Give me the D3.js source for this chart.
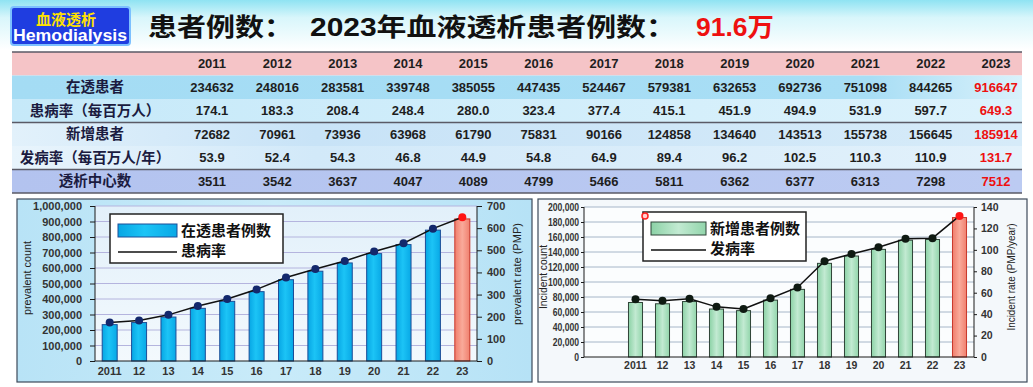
<!DOCTYPE html>
<html>
<head>
<meta charset="utf-8">
<title>血液透析患者例数</title>
<script src="https://cdn.jsdelivr.net/npm/d3@7"></script>
<style>
  html, body { margin: 0; padding: 0; background: #fff; }
  svg { display: block; font-family: "Liberation Sans", Arial, "Noto Sans CJK SC", sans-serif; }
  .cell { font-size: 13px; font-weight: bold; fill: #1e1e1e; text-anchor: middle; }
  .cell.last { fill: #ee1010; }
  .rowlabel { font-size: 14.5px; font-weight: bold; fill: #1b1b40; text-anchor: middle;
              font-family: "Noto Sans CJK SC", sans-serif; }
  .tick text { font-size: 11px; font-weight: bold; fill: #333; }
  .small .tick text { font-size: 10.5px; }
  .axis path, .axis line { stroke: #1a1a1a; }
  .grid-l { stroke: #b4b4de; stroke-width: 1; }
  .grid-r { stroke: #a6b6c8; stroke-width: 1; }
  .ytitle { font-size: 11.5px; fill: #222; text-anchor: middle; }
  .legend text { font-size: 15px; font-weight: bold; fill: #111;
                 font-family: "Noto Sans CJK SC", sans-serif; }
  .rate { fill: none; stroke: #111; stroke-width: 1.5px; }
</style>
</head>
<body>
<div id="chart"></div>
<script>
var width = 1033,
    height = 387;

// ---- data ----
var years = ["2011", "2012", "2013", "2014", "2015", "2016", "2017",
             "2018", "2019", "2020", "2021", "2022", "2023"];
var yearTicks = ["2011", "12", "13", "14", "15", "16", "17",
                 "18", "19", "20", "21", "22", "23"];
var prevalentCount = [234632, 248016, 283581, 339748, 385055, 447435, 524467,
                      579381, 632653, 692736, 751098, 844265, 916647];
var prevalenceRate = [174.1, 183.3, 208.4, 248.4, 280.0, 323.4, 377.4,
                      415.1, 451.9, 494.9, 531.9, 597.7, 649.3];
var incidentCount = [72682, 70961, 73936, 63968, 61790, 75831, 90166,
                     124858, 134640, 143513, 155738, 156645, 185914];
var incidenceRate = [53.9, 52.4, 54.3, 46.8, 44.9, 54.8, 64.9,
                     89.4, 96.2, 102.5, 110.3, 110.9, 131.7];
var centerCount = [3511, 3542, 3637, 4047, 4089, 4799, 5466,
                   5811, 6362, 6377, 6313, 7298, 7512];
var rowLabels = ["在透患者", "患病率（每百万人）", "新增患者",
                 "发病率（每百万人/年）", "透析中心数"];

var svg = d3.select("#chart").append("svg")
            .attr("width", width)
            .attr("height", height);

var defs = svg.append("defs");

function vgrad(id, stops, horizontal) {
  var g = defs.append("linearGradient").attr("id", id)
              .attr("x1", 0).attr("y1", 0)
              .attr("x2", horizontal ? 1 : 0).attr("y2", horizontal ? 0 : 1);
  stops.forEach(function(s) {
    g.append("stop").attr("offset", s[0]).attr("stop-color", s[1]);
  });
}
vgrad("topband", [[0, "#8fe3f2"], [0.35, "#d8f6fb"], [1, "#ffffff"]]);
vgrad("row1", [[0, "#a4dcf4"], [0.85, "#a8def5"], [1, "#d9f1fb"]], true);
vgrad("row2", [[0, "#c6e9f9"], [1, "#dcf2fc"]], true);
vgrad("row3", [[0, "#e2f1fb"], [0.3, "#c8e3f7"], [1, "#d6ebf9"]], true);
vgrad("row4", [[0, "#e8f4fc"], [0.3, "#d2e9f9"], [1, "#e2f1fb"]], true);
vgrad("row5", [[0, "#b3c3ef"], [1, "#bccbf2"]], true);
vgrad("plotL", [[0, "#e2f0fa"], [1, "#f3f9fd"]]);
vgrad("panelL", [[0, "#b8e3f6"], [0.5, "#c9ebf9"], [1, "#b6e2f6"]], true);
vgrad("barBlue", [[0, "#07a6e4"], [0.45, "#1cc4f6"], [1, "#08a8e6"]], true);
vgrad("barGreen", [[0, "#8cd2a6"], [0.5, "#c2ead2"], [1, "#92d5ab"]], true);
vgrad("barRed", [[0, "#f07e6c"], [0.5, "#f9aa9a"], [1, "#f0806e"]], true);

// ---- header ----
svg.append("rect").attr("x", 0).attr("y", 0).attr("width", width).attr("height", 50)
   .attr("fill", "url(#topband)");

var badge = svg.append("g");
badge.append("rect").attr("x", 11).attr("y", 7).attr("width", 119).attr("height", 38)
     .attr("rx", 3).attr("fill", "#1f3de0").attr("stroke", "#7cc0ff").attr("stroke-width", 2);
badge.append("text").attr("x", 66).attr("y", 25).attr("text-anchor", "middle")
     .style("font-family", "'Noto Sans CJK SC'").style("font-weight", "bold")
     .style("font-size", "15px").attr("fill", "#ffe100").text("血液透析");
badge.append("text").attr("x", 70).attr("y", 41).attr("text-anchor", "middle")
     .style("font-weight", "bold").style("font-size", "16px").attr("fill", "#fff")
     .attr("textLength", 114).attr("lengthAdjust", "spacingAndGlyphs")
     .text("Hemodialysis");

var titleStyle = function(sel) {
  sel.style("font-family", "'Liberation Sans', 'Noto Sans CJK SC'")
     .style("font-weight", "bold").style("font-size", "25px")
     .attr("lengthAdjust", "spacingAndGlyphs");
};
svg.append("text").attr("x", 148).attr("y", 36).call(titleStyle)
   .attr("textLength", 145).attr("fill", "#111").text("患者例数：");
svg.append("text").attr("x", 310).attr("y", 36).call(titleStyle)
   .attr("textLength", 366).attr("fill", "#111").text("2023年血液透析患者例数：");
svg.append("text").attr("x", 696).attr("y", 36).call(titleStyle)
   .attr("textLength", 78).attr("fill", "#ee1010").text("91.6万");

// ---- table ----
var tableRows = [
  { label: rowLabels[0], values: prevalentCount.map(String), fill: "url(#row1)" },
  { label: rowLabels[1], values: prevalenceRate.map(d3.format(".1f")), fill: "url(#row2)" },
  { label: rowLabels[2], values: incidentCount.map(String), fill: "url(#row3)" },
  { label: rowLabels[3], values: incidenceRate.map(d3.format(".1f")), fill: "url(#row4)" },
  { label: rowLabels[4], values: centerCount.map(String), fill: "url(#row5)" }
];

var rowY = d3.scaleBand()
             .domain(["header"].concat(rowLabels))
             .range([52, 193]);
var colX = d3.scalePoint().domain(years).range([212, 996]);
var tableLeft = 12, tableRight = 1022, labelX = 95;

var table = svg.append("g");
table.append("rect").attr("x", tableLeft).attr("y", rowY("header"))
     .attr("width", tableRight - tableLeft).attr("height", rowY.bandwidth())
     .attr("fill", "#f5c4c7");
table.selectAll(".yr").data(years).enter().append("text")
     .attr("class", "cell").attr("x", function(d) { return colX(d); })
     .attr("y", rowY("header") + rowY.bandwidth() / 2 + 4.5)
     .text(function(d) { return d; });

var rows = table.selectAll(".row").data(tableRows).enter().append("g");
rows.append("rect").attr("x", tableLeft)
    .attr("y", function(d) { return rowY(d.label); })
    .attr("width", tableRight - tableLeft).attr("height", rowY.bandwidth())
    .attr("fill", function(d) { return d.fill; });
rows.append("text").attr("class", "rowlabel").attr("x", labelX)
    .attr("y", function(d) { return rowY(d.label) + rowY.bandwidth() / 2 + 5; })
    .text(function(d) { return d.label; });
rows.each(function(r) {
  d3.select(this).selectAll(".cell").data(r.values).enter().append("text")
    .attr("class", function(d, i) { return i === years.length - 1 ? "cell last" : "cell"; })
    .attr("x", function(d, i) { return colX(years[i]); })
    .attr("y", rowY(r.label) + rowY.bandwidth() / 2 + 4.5)
    .text(function(d) { return d; });
});

// separator lines
[rowY("header"), rowY(rowLabels[2]), rowY(rowLabels[4]), 193].forEach(function(y) {
  table.append("line").attr("x1", tableLeft).attr("x2", tableRight)
       .attr("y1", y).attr("y2", y).attr("stroke", "#5a5a66").attr("stroke-width", 1.5);
});

// ---- charts ----
function drawChart(cfg) {
  var g = svg.append("g").attr("class", cfg.cls);
  g.append("rect").attr("x", cfg.panel[0]).attr("y", cfg.panel[1])
   .attr("width", cfg.panel[2]).attr("height", cfg.panel[3])
   .attr("fill", cfg.panelFill).attr("stroke", "#3c4a5a").attr("stroke-width", 1.2);

  var x = d3.scaleBand().domain(years).range(cfg.band).paddingInner(cfg.pad).paddingOuter(cfg.pad / 2);
  var y = d3.scaleLinear().domain([0, cfg.yMax]).range([cfg.plot[3], cfg.plot[1]]);
  var r = d3.scaleLinear().domain([0, cfg.rMax]).range([cfg.plot[3], cfg.plot[1]]);

  g.append("rect").attr("x", cfg.plot[0]).attr("y", cfg.plot[1])
   .attr("width", cfg.plot[2] - cfg.plot[0]).attr("height", cfg.plot[3] - cfg.plot[1])
   .attr("fill", cfg.plotFill);

  var yTicks = d3.range(0, cfg.yMax + 1, cfg.yStep);
  g.selectAll(".grid").data(yTicks.slice(1)).enter().append("line")
   .attr("class", cfg.gridClass)
   .attr("x1", cfg.plot[0]).attr("x2", cfg.plot[2])
   .attr("y1", function(d) { return y(d); }).attr("y2", function(d) { return y(d); });

  var data = years.map(function(yr, i) {
    return { year: yr, count: cfg.counts[i], rate: cfg.rates[i], last: i === years.length - 1 };
  });

  g.selectAll(".bar").data(data).enter().append("rect")
   .attr("x", function(d) { return x(d.year); })
   .attr("y", function(d) { return y(d.count); })
   .attr("width", x.bandwidth())
   .attr("height", function(d) { return y(0) - y(d.count); })
   .attr("fill", function(d) { return d.last ? "url(#barRed)" : cfg.barFill; })
   .attr("stroke", function(d) { return d.last ? "#c8382a" : cfg.barStroke; })
   .attr("stroke-width", 1);

  var line = d3.line()
               .x(function(d) { return x(d.year) + x.bandwidth() / 2; })
               .y(function(d) { return r(d.rate); });
  g.append("path").datum(data).attr("class", "rate").attr("d", line);
  g.selectAll(".dot").data(data).enter().append("circle")
   .attr("cx", function(d) { return x(d.year) + x.bandwidth() / 2; })
   .attr("cy", function(d) { return r(d.rate); })
   .attr("r", 4)
   .attr("fill", function(d) { return d.last ? "#ff1414" : cfg.dotFill; });

  var ya = g.append("g").attr("class", "axis")
   .attr("transform", "translate(" + cfg.plot[0] + ",0)")
   .call(d3.axisLeft(y).tickValues(yTicks).tickFormat(d3.format(","))
           .tickSize(cfg.tickL).tickPadding(cfg.padL))
   .call(function(a) { a.select(".domain").attr("d", "M0," + cfg.plot[3] + "V" + cfg.plot[1]); });
  if (cfg.squeeze) {
    // the right panel is narrower in the picture, its labels are squeezed too
    ya.selectAll(".tick text").attr("transform", "scale(" + cfg.squeeze + ",1)");
  }

  g.append("g").attr("class", "axis")
   .attr("transform", "translate(" + cfg.plot[2] + ",0)")
   .call(d3.axisRight(r).tickValues(d3.range(0, cfg.rMax + 1, cfg.rStep))
           .tickSize(cfg.tickR).tickPadding(cfg.padR))
   .call(function(a) { a.select(".domain").attr("d", "M0," + cfg.plot[3] + "V" + cfg.plot[1]); });

  var xa = g.append("g").attr("class", "axis")
   .attr("transform", "translate(0," + cfg.plot[3] + ")")
   .call(d3.axisBottom(x).tickSize(0).tickPadding(cfg.padX)
           .tickFormat(function(d, i) { return yearTicks[i]; }));
  xa.select(".domain").attr("d", "M" + cfg.plot[0] + ",0H" + cfg.plot[2]);

  g.append("text").attr("class", "ytitle")
   .attr("transform", "translate(" + cfg.titleL[0] + "," + cfg.titleL[1] + ") rotate(-90)")
   .attr("textLength", cfg.titleL[2]).attr("lengthAdjust", "spacingAndGlyphs")
   .text(cfg.titleLText);
  g.append("text").attr("class", "ytitle")
   .attr("transform", "translate(" + cfg.titleR[0] + "," + cfg.titleR[1] + ") rotate(-90)")
   .attr("textLength", cfg.titleR[2]).attr("lengthAdjust", "spacingAndGlyphs")
   .text(cfg.titleRText);

  var lg = g.append("g").attr("class", "legend")
            .attr("transform", "translate(" + cfg.legend[0] + "," + cfg.legend[1] + ")");
  lg.append("rect").attr("width", cfg.legend[2]).attr("height", cfg.legend[3])
    .attr("fill", "#fff").attr("stroke", "#222").attr("stroke-width", 1.5);
  lg.append("rect").attr("x", 8).attr("y", 10).attr("width", cfg.swatchW).attr("height", 13)
    .attr("fill", cfg.barFill).attr("stroke", cfg.barStroke);
  lg.append("text").attr("x", cfg.swatchW + 12).attr("y", 22).text(cfg.legendBar);
  lg.append("line").attr("x1", 8).attr("x2", 8 + cfg.swatchW)
    .attr("y1", 38).attr("y2", 38).attr("stroke", "#111").attr("stroke-width", 1.5);
  lg.append("text").attr("x", cfg.swatchW + 12).attr("y", 42).text(cfg.legendLine);
  return g;
}

drawChart({
  cls: "chart-l",
  panel: [17, 199, 515, 183], panelFill: "url(#panelL)",
  plot: [95, 206, 477, 361], plotFill: "url(#plotL)",
  band: [95, 477], pad: 0.49,
  yMax: 1000000, yStep: 100000, rMax: 700, rStep: 100,
  counts: prevalentCount, rates: prevalenceRate,
  barFill: "url(#barBlue)", barStroke: "#1d4e98", dotFill: "#13286c",
  gridClass: "grid-l",
  tickL: 5, padL: 8, tickR: 5, padR: 5, padX: 6,
  titleL: [31, 278, 74], titleLText: "prevalent count",
  titleR: [521, 274, 102], titleRText: "prevalent rate (PMP)",
  legend: [110, 214, 173, 49], swatchW: 59,
  legendBar: "在透患者例数", legendLine: "患病率"
});

var right = drawChart({
  cls: "chart-r small",
  panel: [538, 199, 489, 183], panelFill: "#f4f8fb",
  plot: [584, 207, 974, 357], plotFill: "#fbfdfe",
  band: [622, 973], pad: 0.48,
  yMax: 200000, yStep: 20000, rMax: 140, rStep: 20,
  counts: incidentCount, rates: incidenceRate,
  barFill: "url(#barGreen)", barStroke: "#2f4438", dotFill: "#0f1a12",
  gridClass: "grid-r", squeeze: 0.82,
  tickL: 3, padL: 3, tickR: 3, padR: 4, padX: 5,
  titleL: [547, 277, 64], titleLText: "Incident count",
  titleR: [1015, 277, 107], titleRText: "Incident rate (PMP/year)",
  legend: [643, 212, 163, 49], swatchW: 55,
  legendBar: "新增患者例数", legendLine: "发病率"
});
// small red marker sitting on the legend's corner in the picture
right.append("circle").attr("cx", 645).attr("cy", 216).attr("r", 3)
     .attr("fill", "#ffd0d0").attr("stroke", "#ff2020").attr("stroke-width", 1.5);
</script>
</body>
</html>
